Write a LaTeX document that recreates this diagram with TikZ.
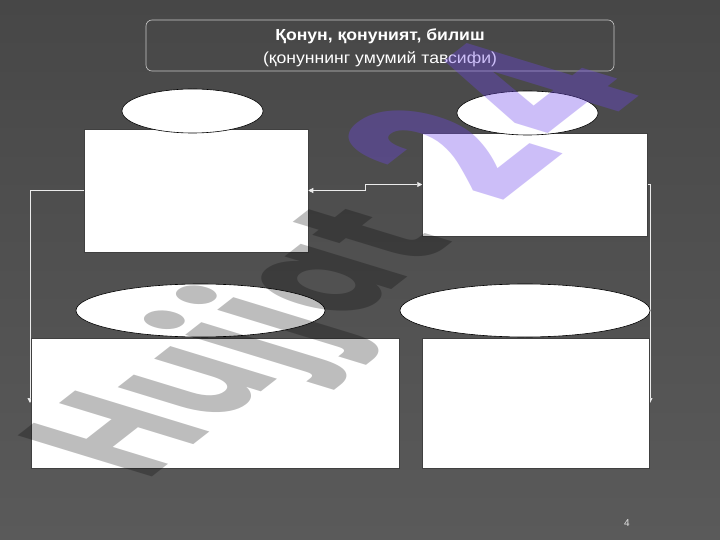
\documentclass[tikz,border=0pt]{standalone}
\usepackage{fontspec}
\setmainfont{Liberation Sans}
\newfontfamily\wmfont{Poppins}[LetterSpace=4]
\usetikzlibrary{arrows.meta,shapes.geometric,calc}
\definecolor{bgtop}{HTML}{474747}
\definecolor{bgbot}{HTML}{5A5A5A}
\definecolor{wmpurple}{RGB}{110,70,235}
\definecolor{framegray}{HTML}{C8C8C8}
\begin{document}
\begin{tikzpicture}[x=1pt,y=-1pt,
  whitebox/.style={draw=black!75, line width=0.5pt, fill=white, rectangle, inner sep=0pt},
  oval/.style={draw=black, line width=0.6pt, fill=white, ellipse, inner sep=0pt},
  conn/.style={draw=white!92!black, line width=0.7pt, -{Triangle[length=5pt,width=5pt]}},
  connboth/.style={draw=white!92!black, line width=0.7pt, {Triangle[length=5pt,width=5pt]}-{Triangle[length=5pt,width=5pt]}},
  wmtext/.style={inner sep=0pt, transform shape, font=\wmfont\bfseries\fontsize{100}{100}\selectfont}
]
\useasboundingbox (0,0) rectangle (720,540);
\shade[top color=bgtop, bottom color=bgbot] (0,0) rectangle (720,540);

% title
\node[draw=framegray, line width=0.6pt, rounded corners=6pt, minimum width=468pt, minimum height=51pt, inner sep=0pt] (title) at (380,45.5) {};
\node[text=white, align=center, font=\fontsize{16}{23}\selectfont] (titletext) at (380,48)
  {\scalebox{1.1}[1]{\textbf{Қонун, қонуният, билиш}}\\\scalebox{1.1}[1]{(қонуннинг умумий тавсифи)}};

% boxes
\node[whitebox, minimum width=224pt, minimum height=123pt] (tl) at (196,190.5) {};
\node[whitebox, minimum width=225pt, minimum height=103pt] (tr) at (535,184.5) {};

% connectors
\draw[conn] (tl.west) -| (30,403) coordinate (lend);
\draw[conn] (tr.east) -| (650,403) coordinate (rend);
\draw[connboth] (tl.east) -- ++(57,0) |- (tr.west);

\node[whitebox, minimum width=368pt, minimum height=130pt] (bl) at (215,403) {};
\node[whitebox, minimum width=226.5pt, minimum height=130pt] (br) at (535.75,403) {};

% ellipses
\node[oval, minimum width=141pt, minimum height=44pt] (e1) at (192.5,111) {};
\node[oval, minimum width=141pt, minimum height=44pt] (e2) at (527.5,113) {};
\node[oval, minimum width=249pt, minimum height=53pt] (e3) at (200.5,310.5) {};
\node[oval, minimum width=250pt, minimum height=53pt] (e4) at (525,310.5) {};

% page number
\node[text=black!10, font=\fontsize{10}{10}\selectfont] (pnum) at (627,523) {4};

% watermark
\begin{scope}[shift={(146,482)}, cm={0.946,0.739,-1.913,0.585,(0,0)}]
  \node[wmtext, anchor=base west, text=black, text opacity=0.26] (wma) at (0,0) {Hujjat};
  \node[wmtext, anchor=base west, text=wmpurple, text opacity=0.35, font=\wmfont\bfseries\fontsize{125}{125}\selectfont] (wmb) at (wma.base east) {\hspace{0.38em}24};
\end{scope}
\end{tikzpicture}
\end{document}
